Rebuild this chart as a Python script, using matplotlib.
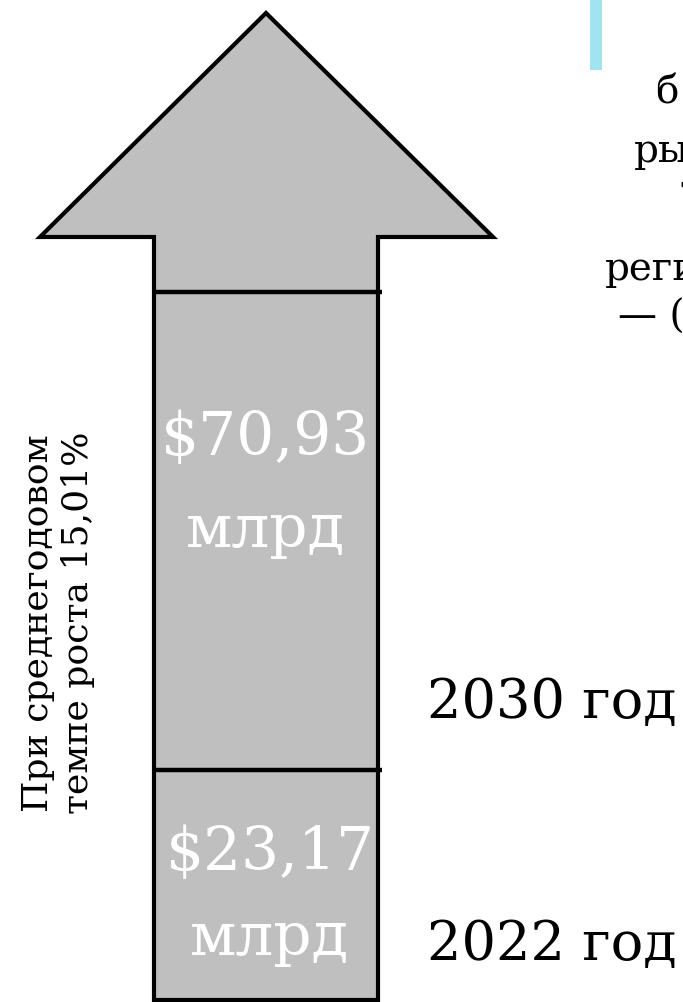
import matplotlib.pyplot as plt
from matplotlib.patches import Polygon, Rectangle

# values shown on the arrow
years = ["2022 год", "2030 год"]
market = ["$23,17", "$70,93"]
unit = "млрд"
cagr_label = "При среднегодовом\nтемпе роста 15,01%"
# fragments of the cropped paragraph at the right edge
side_text = ["б", "ры", "т", "реги", "— ("]

W, H = 683, 1002
GREY = "#bfbfbf"
FONT = "DejaVu Serif"

fig = plt.figure(figsize=(W / 100, H / 100), dpi=100)
ax = fig.add_axes([0, 0, 1, 1])
ax.set_xlim(0, W)
ax.set_ylim(H, 0)  # pixel-like coords, y down
ax.axis("off")

# arrow geometry (layout only)
sx0, sx1 = 154, 378       # shaft
hx0, hx1 = 40, 493        # head base
tip = (266, 13)
head_y = 237
bottom = 1000
cuts = [770, 292]          # segment borders: 2022 | 2030 | top

arrow = Polygon([(sx0, bottom), (sx0, head_y), (hx0, head_y), tip,
                 (hx1, head_y), (sx1, head_y), (sx1, bottom)],
                closed=True, facecolor=GREY, edgecolor="black", lw=3,
                joinstyle="miter")
ax.add_patch(arrow)
for y in cuts:
    ax.plot([sx0 - 2, sx1 + 4], [y, y], color="black", lw=3.2,
            solid_capstyle="butt")

# values inside the shaft (baselines)
val_base = [870, 455]
unit_base = [955, 547]
val_x = [270, 265]
for lab, x, yb, yu in zip(market, val_x, val_base, unit_base):
    ax.text(x, yb, lab, ha="center", va="baseline", color="white",
            fontsize=43, family=FONT)
    ax.text(x, yu, unit, ha="center", va="baseline", color="white",
            fontsize=43, family=FONT)

# year labels
year_base = [960, 718]
for lab, y in zip(years, year_base):
    ax.text(427, y, lab, ha="left", va="baseline", color="black",
            fontsize=39, family=FONT)

# rotated growth note
ax.text(58, 623, cagr_label, rotation=90, ha="center", va="center",
        fontsize=26, family=FONT, linespacing=1.2, multialignment="center")

# cropped text at the top right
ax.add_patch(Rectangle((590, 0), 12, 70, color="#a0e4f2", lw=0))
side_x = [655, 634, 679, 605, 618]
side_y = [103, 162, 202, 280, 328]
for t, x, y in zip(side_text, side_x, side_y):
    ax.text(x, y, t, ha="left", va="baseline", fontsize=28, family=FONT,
            clip_on=True)

fig.savefig("out.png", dpi=100)
